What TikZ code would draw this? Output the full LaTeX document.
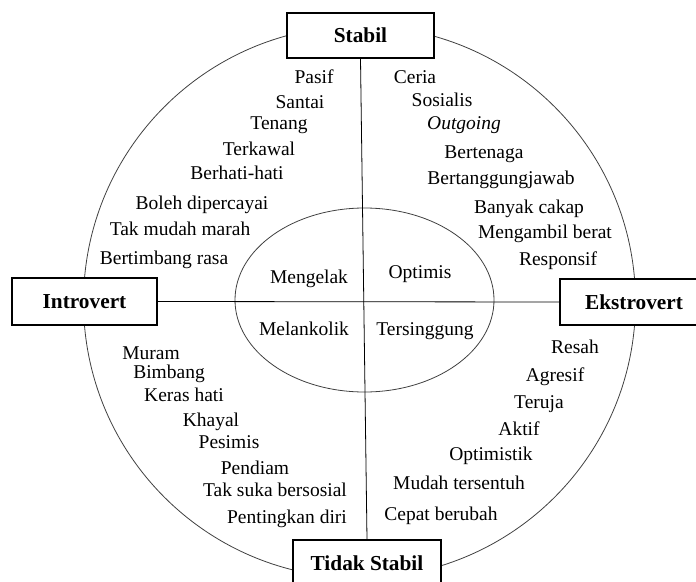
\documentclass[tikz,border=0pt]{standalone}
\usepackage{fontspec}
\setmainfont{Liberation Serif}
\begin{document}
\begin{tikzpicture}[x=1pt,y=-1pt,
  box/.style={draw,line width=1.6pt,fill=white,inner sep=0pt,font=\fontsize{21.3}{24}\selectfont\bfseries},
  trait/.style={anchor=base,inner sep=0pt,font=\fontsize{19.5}{22}\selectfont}]
\useasboundingbox (0,0) rectangle (696,581);
\draw[black!75,line width=0.8pt] (359.5,302) circle [radius=276];
\draw[black!75,line width=0.8pt] (364.5,300) ellipse [x radius=129.5, y radius=92];
\node[box,minimum width=147,minimum height=45] (stabil) at (360.5,35.5) {Stabil};
\node[box,minimum width=145,minimum height=47] (intro) at (84.5,301.5) {Introvert};
\node[box,minimum width=148,minimum height=46] (ekstro) at (634,302) {Ekstrovert};
\node[box,minimum width=148,minimum height=46] (tidak) at (367,563) {Tidak Stabil};
\draw[line width=0.8pt] (stabil.south) -- (tidak.north);
\draw[line width=0.8pt] (intro.east) -- (ekstro.west);
% stabil - introvert
\node[trait] (pasif) at (314,83.5) {Pasif};
\node[trait] (santai) at (300,108.5) {Santai};
\node[trait] (tenang) at (279,129.5) {Tenang};
\node[trait] (terkawal) at (259,155.5) {Terkawal};
\node[trait] (berhati) at (237,179.5) {Berhati-hati};
\node[trait] (boleh) at (202,209.5) {Boleh dipercayai};
\node[trait] (takmarah) at (180,235.5) {Tak mudah marah};
\node[trait] (timbang) at (164,264.5) {Bertimbang rasa};
% stabil - ekstrovert
\node[trait] (ceria) at (415,83.5) {Ceria};
\node[trait] (sosialis) at (442,106.5) {Sosialis};
\node[trait] (outgoing) at (464,129) {\itshape Outgoing};
\node[trait] (tenaga) at (484,158) {Bertenaga};
\node[trait] (jawab) at (501,184) {Bertanggungjawab};
\node[trait] (cakap) at (529,213) {Banyak cakap};
\node[trait] (berat) at (545,238) {Mengambil berat};
\node[trait] (responsif) at (558,265) {Responsif};
% ellipse
\node[trait] (mengelak) at (309,283) {Mengelak};
\node[trait] (optimis) at (420,278) {Optimis};
\node[trait] (melankolik) at (304,335.5) {Melankolik};
\node[trait] (singgung) at (425,335) {Tersinggung};
% tidak stabil - introvert
\node[trait] (muram) at (151,359) {Muram};
\node[trait] (bimbang) at (169,378.5) {Bimbang};
\node[trait] (keras) at (184,401) {Keras hati};
\node[trait] (khayal) at (211,426) {Khayal};
\node[trait] (pesimis) at (229,448.5) {Pesimis};
\node[trait] (pendiam) at (255,474.5) {Pendiam};
\node[trait] (taksosial) at (275,496.5) {Tak suka bersosial};
\node[trait] (penting) at (287,523.5) {Pentingkan diri};
% tidak stabil - ekstrovert
\node[trait] (resah) at (575,353) {Resah};
\node[trait] (agresif) at (555,381) {Agresif};
\node[trait] (teruja) at (539,408.5) {Teruja};
\node[trait] (aktif) at (519,435) {Aktif};
\node[trait] (optimistik) at (491,460) {Optimistik};
\node[trait] (sentuh) at (459,489) {Mudah tersentuh};
\node[trait] (ubah) at (441,520) {Cepat berubah};
\end{tikzpicture}
\end{document}
